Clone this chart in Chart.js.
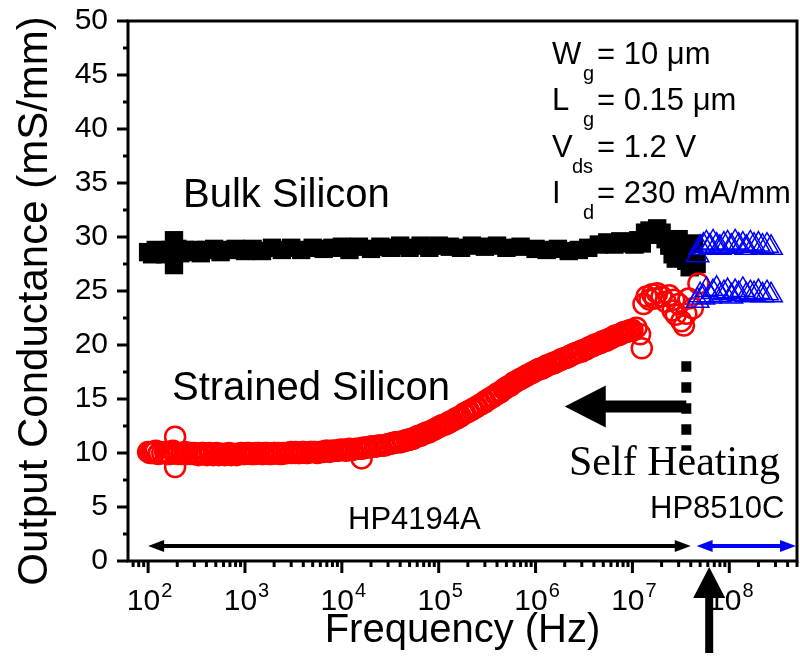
<!DOCTYPE html>
<html>
<head>
<meta charset="utf-8">
<script src="https://cdn.jsdelivr.net/npm/chart.js@4"></script>
<style>
  body { margin: 0; background: #fff; }
</style>
</head>
<body>
<canvas id="chart" width="800" height="661"></canvas>
<script>
// Bulk silicon, HP4194A sweep (black squares)
const bulkFreq = [100, 110, 120, 135, 150, 170, 185, 185, 200, 215, 240, 270, 300, 350, 400, 480, 560, 650, 800,
  1000, 1200, 1500, 1900, 2400, 3000, 3800, 5000, 6500, 8000, 1e4, 1.2e4, 1.5e4, 2e4, 2.5e4, 3.2e4, 4e4, 5e4,
  6.5e4, 8e4, 1e5, 1.3e5, 1.7e5, 2.2e5, 3e5, 4e5, 5e5, 7e5, 1e6, 1.3e6, 1.7e6, 2.2e6, 2.8e6, 3.5e6, 4.5e6,
  5.5e6, 6.5e6, 7.5e6, 9e6, 1.05e7, 1.15e7, 1.25e7, 1.35e7, 1.5e7, 1.65e7, 1.8e7, 2e7, 2.2e7, 2.4e7, 2.6e7,
  2.8e7, 3e7, 3.3e7, 3.6e7, 3.9e7, 4.3e7, 4.6e7];
const bulkValues = [28.6, 28.4, 28.8, 28.6, 28.4, 28.8, 29.7, 27.4, 28.9, 28.5, 28.8, 28.6, 28.8, 28.5, 28.8, 28.9, 28.6, 28.8, 28.9,
  28.7, 28.9, 28.7, 29.0, 28.8, 29.0, 28.8, 29.0, 28.9, 29.0, 29.1, 28.8, 29.1, 28.9, 29.1, 29.0, 29.2, 29.0,
  29.2, 29.0, 29.2, 29.1, 29.0, 29.2, 29.1, 29.2, 29.0, 29.1, 28.9, 28.8, 28.9, 28.7, 28.8, 29.0, 29.3,
  29.5, 29.3, 29.6, 29.4, 29.3, 29.7, 29.4, 30.4, 30.6, 30.2, 30.8, 30.4, 29.8, 29.2, 28.4,
  28.0, 29.8, 28.8, 27.8, 27.2, 29.4, 27.5];

// Strained silicon, HP4194A sweep (red circles)
const strainedFreq = [
  100, 110, 120, 130, 150, 160, 180, 190, 190, 200, 220, 240, 270, 300, 330, 360, 390, 430, 470, 510, 560, 620, 680, 750, 820, 910,
  1000, 1100, 1200, 1300, 1500, 1600, 1800, 2000, 2200, 2400, 2700, 3000, 3300, 3600, 3900, 4300, 4700, 5100, 5600, 6200, 6800, 7500, 8200, 9100,
  1e4, 1.1e4, 1.2e4, 1.3e4, 1.5e4, 1.6e4, 1.6e4, 1.8e4, 2e4, 2.2e4, 2.4e4, 2.7e4, 3e4, 3.3e4, 3.6e4, 3.9e4, 4.3e4, 4.7e4, 5.1e4, 5.6e4, 6.2e4, 6.8e4, 7.5e4, 8.2e4, 9.1e4,
  1e5, 1.1e5, 1.2e5, 1.3e5, 1.5e5, 1.6e5, 1.8e5, 2e5, 2.2e5, 2.4e5, 2.7e5, 3e5, 3.3e5, 3.6e5, 3.9e5, 4.3e5, 4.7e5, 5.1e5, 5.6e5, 6.2e5, 6.8e5, 7.5e5, 8.2e5, 9.1e5,
  1e6, 1.1e6, 1.2e6, 1.3e6, 1.5e6, 1.6e6, 1.8e6, 2e6, 2.2e6, 2.4e6, 2.7e6, 3e6, 3.3e6, 3.6e6, 3.9e6, 4.3e6, 4.7e6, 5.1e6, 5.6e6, 6.2e6, 6.8e6, 7.5e6, 8.2e6, 9.1e6,
  1e7, 1.1e7, 1.2e7, 1.25e7, 1.3e7, 1.4e7, 1.5e7, 1.6e7, 1.7e7, 1.8e7, 2e7, 2.2e7, 2.4e7, 2.6e7, 2.7e7, 2.8e7, 3e7, 3.2e7, 3.4e7, 3.6e7, 3.8e7, 4.2e7, 4.8e7,
  105, 115, 127, 140, 154, 169, 187, 205, 226, 249, 274, 301, 332, 365, 402, 442, 487, 536, 590, 649, 715, 787, 866, 953,
  1050, 1150, 1270, 1400, 1540, 1690, 1870, 2050, 2260, 2490, 2740, 3010, 3320, 3650, 4020, 4420, 4870, 5360, 5900, 6490, 7150, 7870, 8660, 9530,
  1.05e4, 1.15e4, 1.27e4, 1.4e4, 1.54e4, 1.69e4, 1.87e4, 2.05e4, 2.26e4, 2.49e4, 2.74e4, 3.01e4, 3.32e4, 3.65e4, 4.02e4, 4.42e4, 4.87e4, 5.36e4, 5.9e4, 6.49e4, 7.15e4, 7.87e4, 8.66e4, 9.53e4,
  1.05e5, 1.15e5, 1.27e5, 1.4e5, 1.54e5, 1.69e5, 1.87e5, 2.05e5, 2.26e5, 2.49e5, 2.74e5, 3.01e5, 3.32e5, 3.65e5, 4.02e5, 4.42e5, 4.87e5, 5.36e5, 5.9e5, 6.49e5, 7.15e5, 7.87e5, 8.66e5, 9.53e5,
  1.05e6, 1.15e6, 1.27e6, 1.4e6, 1.54e6, 1.69e6, 1.87e6, 2.05e6, 2.26e6, 2.49e6, 2.74e6, 3.01e6, 3.32e6, 3.65e6, 4.02e6, 4.42e6, 4.87e6, 5.36e6, 5.9e6, 6.49e6, 7.15e6, 7.87e6, 8.66e6, 9.53e6];
const strainedValues = [
  10.1, 10.0, 10.2, 10.0, 10.1, 9.9, 10.2, 11.5, 8.7, 10.0, 9.9, 10.1, 9.9, 10.0, 9.8, 10.0, 9.9, 10.0, 9.8, 10.0, 9.9, 9.8, 10.0, 9.9, 9.8, 10.0,
  9.9, 10.0, 9.9, 10.0, 9.9, 10.0, 9.9, 10.0, 10.0, 9.9, 10.0, 10.1, 10.0, 10.0, 10.1, 10.0, 10.1, 10.1, 10.0, 10.1, 10.2, 10.1, 10.2, 10.2,
  10.3, 10.2, 10.4, 10.3, 10.4, 9.5, 10.4, 10.5, 10.6, 10.6, 10.7, 10.7, 10.8, 10.9, 11.0, 11.0, 11.1, 11.2, 11.3, 11.4, 11.6, 11.7, 11.9, 12.0, 12.2,
  12.4, 12.6, 12.7, 12.9, 13.2, 13.3, 13.6, 13.8, 14.0, 14.2, 14.5, 14.7, 15.0, 15.2, 15.4, 15.6, 15.9, 16.1, 16.3, 16.6, 16.8, 17.0, 17.2, 17.4,
  17.6, 17.8, 17.9, 18.1, 18.3, 18.4, 18.6, 18.8, 18.9, 19.1, 19.3, 19.4, 19.6, 19.8, 19.9, 20.1, 20.2, 20.4, 20.5, 20.7, 20.9, 21.0, 21.2, 21.3,
  21.4, 21.6, 21.0, 19.7, 23.8, 24.5, 24.2, 24.7, 24.3, 24.8, 24.5, 24.0, 24.6, 23.2, 24.2, 22.8, 23.8, 22.2, 21.8, 22.9, 24.3, 23.4, 25.7,
  10.0, 10.1, 9.9, 10.0, 10.1, 9.9, 10.0, 9.9, 10.0, 9.9, 10.0, 9.9, 9.9, 10.0, 9.8, 9.9, 9.9, 9.8, 9.9, 9.9, 9.8, 9.9, 9.9, 9.9,
  10.0, 9.9, 9.9, 10.0, 9.9, 10.0, 9.9, 10.0, 9.9, 10.0, 10.0, 10.0, 10.1, 10.0, 10.1, 10.0, 10.1, 10.1, 10.1, 10.1, 10.2, 10.2, 10.2, 10.3,
  10.3, 10.3, 10.3, 10.4, 10.4, 10.5, 10.5, 10.6, 10.6, 10.7, 10.7, 10.8, 10.9, 11.0, 11.0, 11.1, 11.2, 11.3, 11.5, 11.6, 11.8, 11.9, 12.1, 12.3,
  12.5, 12.6, 12.8, 13.0, 13.2, 13.4, 13.7, 13.9, 14.1, 14.3, 14.5, 14.8, 15.0, 15.2, 15.5, 15.7, 16.0, 16.2, 16.5, 16.7, 16.9, 17.1, 17.3, 17.5,
  17.7, 17.8, 18.0, 18.2, 18.3, 18.5, 18.7, 18.8, 19.0, 19.2, 19.3, 19.5, 19.6, 19.8, 20.0, 20.1, 20.3, 20.4, 20.6, 20.8, 20.9, 21.1, 21.2, 21.4];

// HP8510C sweep (blue triangles), both wafers
const hfFreq = [4.7e7, 5.0e7, 5.4e7, 5.8e7, 6.3e7, 6.8e7, 7.4e7, 8e7, 8.8e7, 9.6e7, 1.05e8, 1.15e8, 1.25e8,
  1.38e8, 1.5e8, 1.65e8, 1.8e8, 2e8, 2.2e8, 2.45e8, 2.7e8];
const hfBulkValues = [28.3, 29.0, 29.2, 29.4, 29.1, 29.5, 29.2, 29.0, 29.3, 29.4, 29.1, 29.5, 29.2,
  29.3, 29.0, 29.4, 29.2, 29.3, 29.1, 29.2, 29.0];
const hfStrainedValues = [24.1, 24.6, 24.4, 25.1, 24.5, 24.9, 25.2, 24.6, 24.8, 25.0, 24.5, 24.9, 24.7,
  25.1, 24.6, 24.8, 24.7, 24.9, 24.6, 24.8, 24.6];

const xTickExponents = [2, 3, 4, 5, 6, 7, 8];

const SANS = '"Liberation Sans", Arial, sans-serif';
const SERIF = '"Liberation Serif", "Times New Roman", serif';

function toPoints(xs, ys) {
  return xs.map((x, i) => ({ x: x, y: ys[i] }));
}

function line(ctx, x1, y1, x2, y2) {
  ctx.beginPath();
  ctx.moveTo(x1, y1);
  ctx.lineTo(x2, y2);
  ctx.stroke();
}

// horizontal double headed arrow
function doubleArrow(ctx, x1, x2, y, color) {
  ctx.strokeStyle = color;
  ctx.fillStyle = color;
  ctx.lineWidth = 4;
  line(ctx, x1 + 10, y, x2 - 10, y);
  ctx.beginPath();
  ctx.moveTo(x1, y); ctx.lineTo(x1 + 16, y - 6); ctx.lineTo(x1 + 16, y + 6); ctx.closePath();
  ctx.fill();
  ctx.beginPath();
  ctx.moveTo(x2, y); ctx.lineTo(x2 - 16, y - 6); ctx.lineTo(x2 - 16, y + 6); ctx.closePath();
  ctx.fill();
}

function subText(ctx, x, y, main, sub, subX, rest) {
  ctx.font = '31px ' + SANS;
  ctx.fillText(main, x, y);
  ctx.font = '20px ' + SANS;
  ctx.fillText(sub, subX, y + 16);
  ctx.font = '31px ' + SANS;
  ctx.fillText(rest, 597, y);
}

const decor = {
  id: 'decor',
  afterDatasetsDraw(chart) {
    const ctx = chart.ctx;
    const a = chart.chartArea;
    const xs = chart.scales.x;
    const ys = chart.scales.y;
    ctx.save();
    ctx.strokeStyle = '#000';
    ctx.fillStyle = '#000';
    ctx.lineWidth = 3;
    ctx.strokeRect(a.left, a.top, a.right - a.left, a.bottom - a.top);

    // y tick marks
    for (let v = ys.min; v <= ys.max; v += 2.5) {
      const py = ys.getPixelForValue(v);
      line(ctx, a.left - (v % 5 === 0 ? 11 : 5), py, a.left, py);
    }
    // x tick marks, log decades
    for (let e = 1; e <= 8; e++) {
      for (let m = 1; m <= 9; m++) {
        const v = m * Math.pow(10, e);
        if (v < xs.min || v > xs.max) continue;
        const px = xs.getPixelForValue(v);
        line(ctx, px, a.bottom, px, a.bottom + (m === 1 ? 12 : 6));
      }
    }
    // x tick labels as 10^n
    ctx.textAlign = 'left';
    ctx.textBaseline = 'alphabetic';
    xTickExponents.forEach(e => {
      const px = xs.getPixelForValue(Math.pow(10, e));
      ctx.font = '30px ' + SANS;
      const w1 = ctx.measureText('10').width;
      ctx.font = '20px ' + SANS;
      const w2 = ctx.measureText(String(e)).width;
      const x0 = px - (w1 + w2) / 2 + 1;
      ctx.font = '30px ' + SANS;
      ctx.fillText('10', x0, 610);
      ctx.font = '20px ' + SANS;
      ctx.fillText(String(e), x0 + w1 + 1, 597);
    });

    // y axis title
    ctx.save();
    ctx.translate(35, 301);
    ctx.rotate(-Math.PI / 2);
    ctx.textAlign = 'center';
    ctx.textBaseline = 'middle';
    ctx.font = '42px ' + SANS;
    ctx.fillText('Output Conductance (mS/mm)', 0, 0);
    ctx.restore();

    // labels
    ctx.font = '40px ' + SANS;
    ctx.fillText('Bulk Silicon', 183, 207);
    ctx.fillText('Strained Silicon', 172, 400);

    subText(ctx, 552, 64, 'W', 'g', 583, '= 10 \u03bcm');
    subText(ctx, 552, 110, 'L', 'g', 583, '= 0.15 \u03bcm');
    subText(ctx, 552, 157, 'V', 'ds', 572, '= 1.2 V');
    subText(ctx, 552, 203, 'I', 'd', 583, '= 230 mA/mm');

    // self heating marker
    const xHeat = xs.getPixelForValue(3.6e7);
    ctx.lineWidth = 10;
    ctx.setLineDash([10.5, 10.5]);
    line(ctx, xHeat, ys.getPixelForValue(18.5), xHeat, ys.getPixelForValue(10.2));
    ctx.setLineDash([]);
    const yArrow = ys.getPixelForValue(14.3);
    const xTip = xs.getPixelForValue(2e6);
    ctx.lineWidth = 12;
    line(ctx, xHeat, yArrow, xTip + 38, yArrow);
    ctx.beginPath();
    ctx.moveTo(xTip, yArrow);
    ctx.lineTo(xTip + 41, yArrow - 21);
    ctx.lineTo(xTip + 41, yArrow + 21);
    ctx.closePath();
    ctx.fill();

    ctx.font = '42px ' + SERIF;
    ctx.fillText('Self Heating', 569, 475);

    ctx.font = '31px ' + SANS;
    ctx.fillText('HP4194A', 348, 529);
    ctx.fillText('HP8510C', 650, 518);

    // instrument ranges
    const yRange = ys.getPixelForValue(1.4);
    doubleArrow(ctx, xs.getPixelForValue(100), xs.getPixelForValue(4e7), yRange, '#000');
    doubleArrow(ctx, xs.getPixelForValue(4.6e7), a.right - 1, yRange, '#0000ff');

    // arrow under axis
    const xUp = xs.getPixelForValue(6.2e7);
    ctx.fillStyle = '#000';
    ctx.fillRect(xUp - 4, 595, 8, 58);
    ctx.beginPath();
    ctx.moveTo(xUp, a.bottom + 6);
    ctx.lineTo(xUp - 16, 598);
    ctx.lineTo(xUp + 16, 598);
    ctx.closePath();
    ctx.fill();
    ctx.restore();
  }
};

new Chart(document.getElementById('chart'), {
  type: 'scatter',
  data: {
    datasets: [
      {
        label: 'HP8510C bulk',
        data: toPoints(hfFreq, hfBulkValues),
        pointStyle: 'triangle',
        pointRadius: 13,
        pointBorderColor: '#0000ff',
        pointBackgroundColor: 'rgba(0,0,0,0)',
        pointBorderWidth: 1.5
      },
      {
        label: 'HP8510C strained',
        data: toPoints(hfFreq, hfStrainedValues),
        pointStyle: 'triangle',
        pointRadius: 13,
        pointBorderColor: '#0000ff',
        pointBackgroundColor: 'rgba(0,0,0,0)',
        pointBorderWidth: 1.5
      },
      {
        label: 'Strained Silicon',
        data: toPoints(strainedFreq, strainedValues),
        pointStyle: 'circle',
        pointRadius: 10,
        pointBorderColor: '#ff0000',
        pointBackgroundColor: 'rgba(0,0,0,0)',
        pointBorderWidth: 2.5
      },
      {
        label: 'Bulk Silicon',
        data: toPoints(bulkFreq, bulkValues),
        pointStyle: 'rect',
        pointRadius: 13,
        pointBorderColor: '#000',
        pointBackgroundColor: '#000',
        pointBorderWidth: 0
      }
    ]
  },
  options: {
    responsive: false,
    animation: false,
    devicePixelRatio: 1,
    layout: { autoPadding: false, padding: { top: 21, right: 3, bottom: 0, left: 0 } },
    plugins: { legend: { display: false }, tooltip: { enabled: false } },
    scales: {
      x: {
        type: 'logarithmic',
        min: 62,
        max: 5e8,
        grid: { display: false, drawTicks: false },
        border: { display: false },
        ticks: { display: false },
        title: {
          display: true,
          text: 'Frequency (Hz)',
          color: '#000',
          font: { size: 40, family: SANS },
          padding: { top: 0, bottom: 6 }
        },
        afterFit: scale => {
          scale.height = 100;
          scale.paddingLeft = 0;
          scale.paddingRight = 0;
        }
      },
      y: {
        min: 0,
        max: 50,
        grid: { display: false, drawTicks: false },
        border: { display: false },
        ticks: {
          stepSize: 5,
          padding: 20,
          color: '#000',
          font: { size: 30, family: SANS }
        },
        title: { display: false },
        afterFit: scale => {
          scale.width = 128;
          scale.paddingTop = 0;
          scale.paddingBottom = 0;
        }
      }
    }
  },
  plugins: [decor]
});
</script>
</body>
</html>
